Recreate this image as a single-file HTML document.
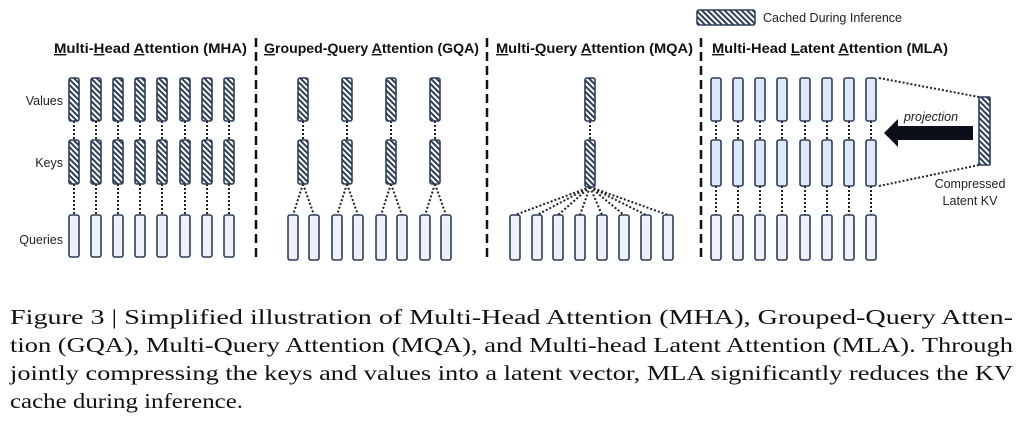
<!DOCTYPE html>
<html><head><meta charset="utf-8"><style>
html,body{margin:0;padding:0;background:#fff;}
svg{display:block;}
.t{font-family:"Liberation Sans",sans-serif;font-weight:bold;font-size:14px;fill:#111;}
.l{font-family:"Liberation Sans",sans-serif;font-size:12.5px;fill:#222;}
.c{font-family:"Liberation Serif",serif;font-size:21px;fill:#111;}
.u{text-decoration:underline;}
</style></head><body>
<svg width="1024" height="423" viewBox="0 0 1024 423" xmlns="http://www.w3.org/2000/svg">
<defs>
<pattern id="h" width="4" height="4" patternUnits="userSpaceOnUse" patternTransform="rotate(-45)">
<rect width="4" height="4" fill="#fff"/><rect width="2" height="4" fill="#2c3e5a"/>
</pattern>
</defs>
<g id="all" stroke-linecap="butt">
<!-- legend -->
<rect x="697" y="10" width="58" height="15" rx="2" fill="url(#h)" stroke="#2c3e5a" stroke-width="1.5"/>
<text x="763" y="22" class="l" font-size="12.5">Cached During Inference</text>
<!-- titles -->
<text x="54" y="53" class="t" textLength="193" lengthAdjust="spacingAndGlyphs"><tspan class="u">M</tspan>ulti-<tspan class="u">H</tspan>ead <tspan class="u">A</tspan>ttention (MHA)</text>
<text x="264" y="53" class="t" textLength="215" lengthAdjust="spacingAndGlyphs"><tspan class="u">G</tspan>rouped-<tspan class="u">Q</tspan>uery <tspan class="u">A</tspan>ttention (GQA)</text>
<text x="496" y="53" class="t" textLength="197" lengthAdjust="spacingAndGlyphs"><tspan class="u">M</tspan>ulti-<tspan class="u">Q</tspan>uery <tspan class="u">A</tspan>ttention (MQA)</text>
<text x="712" y="53" class="t" textLength="236" lengthAdjust="spacingAndGlyphs"><tspan class="u">M</tspan>ulti-Head <tspan class="u">L</tspan>atent <tspan class="u">A</tspan>ttention (MLA)</text>
<!-- dividers -->
<g stroke="#111" stroke-width="2.5" stroke-dasharray="9,5">
<line x1="256" y1="38" x2="256" y2="262"/>
<line x1="487" y1="38" x2="487" y2="262"/>
<line x1="701" y1="38" x2="701" y2="262"/>
</g>
<!-- row labels -->
<text x="63" y="105" class="l" text-anchor="end">Values</text>
<text x="63" y="167" class="l" text-anchor="end">Keys</text>
<text x="63" y="244" class="l" text-anchor="end">Queries</text>
<!-- connectors -->
<g stroke="#222" stroke-width="2" stroke-dasharray="2,2" fill="none">
<path d="M74 121V140M74 184V215M96 121V140M96 184V215M118 121V140M118 184V215M140 121V140M140 184V215M162 121V140M162 184V215M185 121V140M185 184V215M207 121V140M207 184V215M229 121V140M229 184V215"/>
<path d="M303 121V140M347 121V140M391 121V140M435 121V140"/>
<path d="M303 184L293 215M303 184L314 215M347 184L337 215M347 184L358 215M391 184L381 215M391 184L402 215M435 184L425 215M435 184L446 215"/>
<path d="M590 121V140"/>
<path d="M590 187L515 215M590 187L537 215M590 187L558 215M590 187L580 215M590 187L602 215M590 187L624 215M590 187L646 215M590 187L668 215"/>
<path d="M716 121V140M716 186V215M738 121V140M738 186V215M760 121V140M760 186V215M782 121V140M782 186V215M805 121V140M805 186V215M827 121V140M827 186V215M849 121V140M849 186V215M871 121V140M871 186V215"/>
<path d="M879 78L979 97M879 186L979 165"/>
</g>
<!-- boxes -->
<g stroke="#2c3e5a" stroke-width="1.6">
<g fill="url(#h)">
<rect x="69" y="78" width="10" height="43" rx="2"/><rect x="91" y="78" width="10" height="43" rx="2"/><rect x="113" y="78" width="10" height="43" rx="2"/><rect x="135" y="78" width="10" height="43" rx="2"/><rect x="157" y="78" width="10" height="43" rx="2"/><rect x="180" y="78" width="10" height="43" rx="2"/><rect x="202" y="78" width="10" height="43" rx="2"/><rect x="224" y="78" width="10" height="43" rx="2"/>
<rect x="69" y="140" width="10" height="44" rx="2"/><rect x="91" y="140" width="10" height="44" rx="2"/><rect x="113" y="140" width="10" height="44" rx="2"/><rect x="135" y="140" width="10" height="44" rx="2"/><rect x="157" y="140" width="10" height="44" rx="2"/><rect x="180" y="140" width="10" height="44" rx="2"/><rect x="202" y="140" width="10" height="44" rx="2"/><rect x="224" y="140" width="10" height="44" rx="2"/>
<rect x="298" y="78" width="10" height="43" rx="2"/><rect x="342" y="78" width="10" height="43" rx="2"/><rect x="386" y="78" width="10" height="43" rx="2"/><rect x="430" y="78" width="10" height="43" rx="2"/>
<rect x="298" y="140" width="10" height="44" rx="2"/><rect x="342" y="140" width="10" height="44" rx="2"/><rect x="386" y="140" width="10" height="44" rx="2"/><rect x="430" y="140" width="10" height="44" rx="2"/>
<rect x="585" y="78" width="10" height="43" rx="2"/><rect x="585" y="140" width="10" height="47" rx="2"/>
<rect x="979" y="97" width="11" height="68" rx="1"/>
</g>
<g fill="#eef1f6">
<rect x="69" y="215" width="10" height="42" rx="2"/><rect x="91" y="215" width="10" height="42" rx="2"/><rect x="113" y="215" width="10" height="42" rx="2"/><rect x="135" y="215" width="10" height="42" rx="2"/><rect x="157" y="215" width="10" height="42" rx="2"/><rect x="180" y="215" width="10" height="42" rx="2"/><rect x="202" y="215" width="10" height="42" rx="2"/><rect x="224" y="215" width="10" height="42" rx="2"/>
<rect x="288" y="215" width="10" height="45" rx="2"/><rect x="309" y="215" width="10" height="45" rx="2"/><rect x="332" y="215" width="10" height="45" rx="2"/><rect x="353" y="215" width="10" height="45" rx="2"/><rect x="376" y="215" width="10" height="45" rx="2"/><rect x="397" y="215" width="10" height="45" rx="2"/><rect x="420" y="215" width="10" height="45" rx="2"/><rect x="441" y="215" width="10" height="45" rx="2"/>
<rect x="510" y="215" width="10" height="45" rx="2"/><rect x="532" y="215" width="10" height="45" rx="2"/><rect x="553" y="215" width="10" height="45" rx="2"/><rect x="575" y="215" width="10" height="45" rx="2"/><rect x="597" y="215" width="10" height="45" rx="2"/><rect x="619" y="215" width="10" height="45" rx="2"/><rect x="641" y="215" width="10" height="45" rx="2"/><rect x="663" y="215" width="10" height="45" rx="2"/>
<rect x="711" y="215" width="10" height="45" rx="2"/><rect x="733" y="215" width="10" height="45" rx="2"/><rect x="755" y="215" width="10" height="45" rx="2"/><rect x="777" y="215" width="10" height="45" rx="2"/><rect x="800" y="215" width="10" height="45" rx="2"/><rect x="822" y="215" width="10" height="45" rx="2"/><rect x="844" y="215" width="10" height="45" rx="2"/><rect x="866" y="215" width="10" height="45" rx="2"/>
</g>
<g fill="#dce9f8">
<rect x="711" y="78" width="10" height="43" rx="2"/><rect x="733" y="78" width="10" height="43" rx="2"/><rect x="755" y="78" width="10" height="43" rx="2"/><rect x="777" y="78" width="10" height="43" rx="2"/><rect x="800" y="78" width="10" height="43" rx="2"/><rect x="822" y="78" width="10" height="43" rx="2"/><rect x="844" y="78" width="10" height="43" rx="2"/><rect x="866" y="78" width="10" height="43" rx="2"/>
<rect x="711" y="140" width="10" height="46" rx="2"/><rect x="733" y="140" width="10" height="46" rx="2"/><rect x="755" y="140" width="10" height="46" rx="2"/><rect x="777" y="140" width="10" height="46" rx="2"/><rect x="800" y="140" width="10" height="46" rx="2"/><rect x="822" y="140" width="10" height="46" rx="2"/><rect x="844" y="140" width="10" height="46" rx="2"/><rect x="866" y="140" width="10" height="46" rx="2"/>
</g>
</g>
<polygon points="973,126 898,126 898,119 884,133 898,147 898,140 973,140" fill="#0a0f1a"/>
<text x="931" y="121" class="l" text-anchor="middle" font-style="italic" font-size="12">projection</text>
<text x="970" y="188" class="l" text-anchor="middle">Compressed</text>
<text x="970" y="205" class="l" text-anchor="middle">Latent KV</text>
<text x="10" y="324" class="c" textLength="1003" lengthAdjust="spacingAndGlyphs">Figure 3 | Simplified illustration of Multi-Head Attention (MHA), Grouped-Query Atten-</text>
<text x="10" y="352" class="c" textLength="1003" lengthAdjust="spacingAndGlyphs">tion (GQA), Multi-Query Attention (MQA), and Multi-head Latent Attention (MLA). Through</text>
<text x="10" y="380" class="c" textLength="1003" lengthAdjust="spacingAndGlyphs">jointly compressing the keys and values into a latent vector, MLA significantly reduces the KV</text>
<text x="10" y="408" class="c" textLength="233" lengthAdjust="spacingAndGlyphs">cache during inference.</text>
</g>
</svg>
</body></html>
